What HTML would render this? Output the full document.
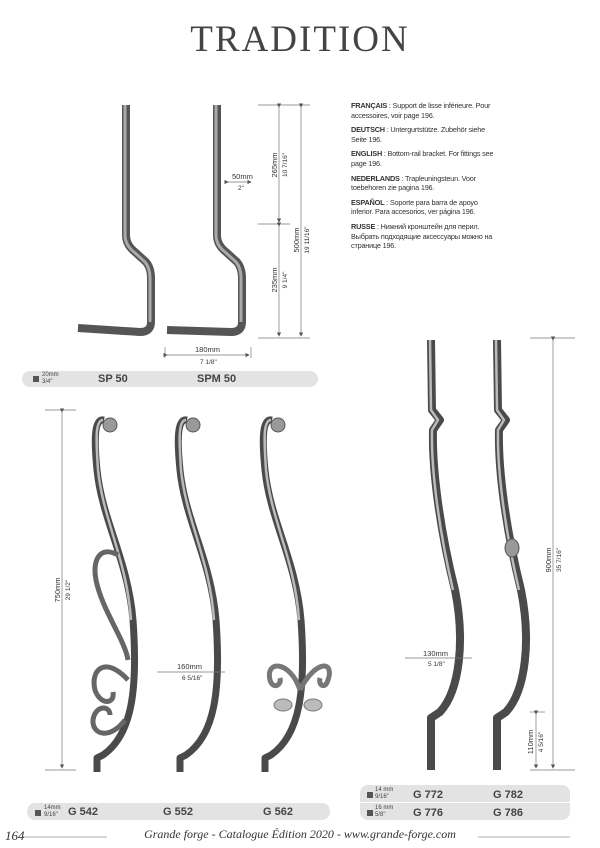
<!DOCTYPE html>
<html><head><meta charset="utf-8"><style>
body{margin:0;background:#fff;}
.p{position:relative;width:600px;height:848px;overflow:hidden;font-family:"Liberation Sans",sans-serif;}
.t{position:absolute;left:0;width:600px;top:18px;text-align:center;font-family:"Liberation Serif",serif;font-size:37px;letter-spacing:2px;color:#444;}
.txt{position:absolute;left:351px;top:101px;width:150px;font-size:7.3px;line-height:9.6px;color:#333;font-family:"Liberation Sans","Noto Sans CJK SC",sans-serif;letter-spacing:-0.2px}
.txt p{margin:0 0 5px 0}
.bar{position:absolute;background:#e3e3e3;border-radius:8px;}
.lbl{position:absolute;font-weight:bold;font-size:11px;color:#444;}
.sm{position:absolute;font-size:6px;line-height:7px;color:#444;}
.sq{position:absolute;width:6px;height:6px;background:#555;}
</style></head><body><div class="p">
<div class="t">TRADITION</div>
<div class="txt">
<p><b>FRANÇAIS</b> : Support de lisse inférieure. Pour accessoires, voir page 196.</p>
<p><b>DEUTSCH</b> : Untergurtstütze. Zubehör siehe Seite 196.</p>
<p><b>ENGLISH</b> : Bottom-rail bracket. For fittings see page 196.</p>
<p><b>NEDERLANDS</b> : Trapleuningsteun. Voor toebehoren zie pagina 196.</p>
<p><b>ESPAÑOL</b> : Soporte para barra de apoyo inferior. Para accesorios, ver página 196.</p>
<p><b>RUSSE</b> : Нижний кронштейн для перил. Выбрать подходящие аксессуары можно на странице 196.</p>
</div>
<svg width="600" height="848" style="position:absolute;left:0;top:0" font-family="Liberation Sans,sans-serif" fill="#444">
<defs><marker id="a" markerWidth="6" markerHeight="6" refX="5" refY="3" orient="auto"><path d="M0,0L6,3L0,6z" fill="#555"/></marker></defs>
<g fill="none" stroke-linejoin="round" stroke-linecap="butt">
<!-- SP50 -->
<path d="M126,105 L126,235 Q126,245 135,252 L146,262 Q151,268 151,278 L151,322 Q151,332 140,332 L78,328" stroke="#555" stroke-width="8"/>
<path d="M125,105 L125,235 Q125,245 134,252 L145,262 Q150,268 150,278 L150,322" stroke="#aaa" stroke-width="3"/>
<!-- SPM50 -->
<path d="M217,105 L217,235 Q217,245 226,252 L237,262 Q242,268 242,278 L242,322 Q242,332 231,332 L167,330" stroke="#555" stroke-width="8"/>
<path d="M216,105 L216,235 Q216,245 225,252 L236,262 Q241,268 241,278 L241,322" stroke="#aaa" stroke-width="3"/>
<!-- balusters -->
<g id="b"><path d="M104,420 C94,418 94,440 97,470 C102,520 128,560 133,620 C138,690 132,735 103,755 L97,758 L97,772" stroke="#4a4a4a" stroke-width="7"/>
<path d="M103,420 C95,420 96,440 98,470 C103,520 127,560 131,620" stroke="#bbb" stroke-width="2.5"/>
<circle cx="110" cy="425" r="7" fill="#999" stroke="#555"/></g>
<use href="#b" x="83"/><use href="#b" x="168"/>
<!-- G542 scrolls -->
<path d="M118,555 C100,545 92,560 96,580 C102,610 125,640 128,660" stroke="#666" stroke-width="5"/>
<path d="M128,680 C105,655 90,670 95,690 C100,705 115,705 113,692" stroke="#666" stroke-width="5"/>
<path d="M125,720 C110,740 92,735 93,720 C95,705 110,705 110,715" stroke="#666" stroke-width="5"/>
<!-- G562 leaves -->
<path d="M300,690 C290,660 265,660 270,680 C273,690 282,685 280,678" stroke="#777" stroke-width="5"/>
<path d="M300,690 C315,660 335,660 328,680 C325,690 318,685 320,678" stroke="#777" stroke-width="5"/>
<ellipse cx="283" cy="705" rx="9" ry="6" fill="#bbb" stroke="#777"/><ellipse cx="313" cy="705" rx="9" ry="6" fill="#bbb" stroke="#777"/>
<!-- G772 / G782 -->
<g id="g"><path d="M431,340 L432,410 L440,420 L433,430 C432,470 440,530 455,590 C465,640 460,690 440,712 L431,718 L431,770" stroke="#4a4a4a" stroke-width="8"/>
<path d="M430,340 L431,410 L438,420 L432,430 C431,470 439,530 453,590" stroke="#bbb" stroke-width="2.5"/></g>
<use href="#g" x="66"/>
<ellipse cx="512" cy="548" rx="7" ry="9" fill="#999" stroke="#555"/>
</g>
<!-- dimensions -->
<g stroke="#777" stroke-width="0.7" fill="none">
<line x1="258" y1="105" x2="310" y2="105"/><line x1="258" y1="224" x2="290" y2="224"/><line x1="258" y1="338" x2="310" y2="338"/>
<line x1="279" y1="107" x2="279" y2="222" marker-start="url(#a)" marker-end="url(#a)"/>
<line x1="279" y1="226" x2="279" y2="336" marker-start="url(#a)" marker-end="url(#a)"/>
<line x1="301" y1="107" x2="301" y2="336" marker-start="url(#a)" marker-end="url(#a)"/>
<line x1="228" y1="182" x2="251" y2="182" marker-start="url(#a)" marker-end="url(#a)"/>
<line x1="165" y1="347" x2="165" y2="358"/><line x1="251" y1="347" x2="251" y2="358"/>
<line x1="167" y1="355" x2="249" y2="355" marker-start="url(#a)" marker-end="url(#a)"/>
<line x1="45" y1="410" x2="76" y2="410"/><line x1="45" y1="770" x2="76" y2="770"/>
<line x1="62" y1="412" x2="62" y2="768" marker-start="url(#a)" marker-end="url(#a)"/>
<line x1="157" y1="672" x2="225" y2="672"/>
<line x1="405" y1="658" x2="472" y2="658"/>
<line x1="530" y1="338" x2="575" y2="338"/><line x1="530" y1="770" x2="575" y2="770"/>
<line x1="553" y1="340" x2="553" y2="768" marker-start="url(#a)" marker-end="url(#a)"/>
<line x1="530" y1="712" x2="545" y2="712"/>
<line x1="536" y1="714" x2="536" y2="768" marker-start="url(#a)" marker-end="url(#a)"/>
</g>
<g font-size="7.5" fill="#333">
<text transform="translate(277,165) rotate(-90)" text-anchor="middle">265mm</text>
<text transform="translate(287,165) rotate(-90)" text-anchor="middle" font-size="6.5">10 7/16"</text>
<text transform="translate(277,280) rotate(-90)" text-anchor="middle">235mm</text>
<text transform="translate(287,280) rotate(-90)" text-anchor="middle" font-size="6.5">9 1/4"</text>
<text transform="translate(299,240) rotate(-90)" text-anchor="middle">500mm</text>
<text transform="translate(309,240) rotate(-90)" text-anchor="middle" font-size="6.5">19 11/16"</text>
<text x="232" y="179">50mm</text><text x="238" y="190" font-size="6.5">2"</text>
<text x="195" y="352">180mm</text><text x="200" y="364" font-size="6.5">7 1/8"</text>
<text transform="translate(60,590) rotate(-90)" text-anchor="middle">750mm</text>
<text transform="translate(70,590) rotate(-90)" text-anchor="middle" font-size="6.5">29 1/2"</text>
<text x="177" y="669">160mm</text><text x="182" y="680" font-size="6.5">6 5/16"</text>
<text x="423" y="656">130mm</text><text x="428" y="666" font-size="6.5">5 1/8"</text>
<text transform="translate(551,560) rotate(-90)" text-anchor="middle">900mm</text>
<text transform="translate(561,560) rotate(-90)" text-anchor="middle" font-size="6.5">35 7/16"</text>
<text transform="translate(533,742) rotate(-90)" text-anchor="middle">110mm</text>
<text transform="translate(543,742) rotate(-90)" text-anchor="middle" font-size="6.5">4 5/16"</text>
</g>
<g stroke="#999" stroke-width="0.8"><line x1="22" y1="837" x2="107" y2="837"/><line x1="478" y1="837" x2="570" y2="837"/></g>
<text x="5" y="840" font-family="Liberation Serif,serif" font-style="italic" font-size="13" fill="#333">164</text>
<text x="300" y="838" text-anchor="middle" font-family="Liberation Serif,serif" font-style="italic" font-size="12" fill="#333">Grande forge - Catalogue Édition  2020 - www.grande-forge.com</text>
</svg>
<div class="bar" style="left:22px;top:371px;width:296px;height:16px"></div>
<div class="sq" style="left:33px;top:376px"></div><div class="sm" style="left:42px;top:372px">20mm<br>3/4"</div>
<div class="lbl" style="left:98px;top:373px">SP 50</div><div class="lbl" style="left:197px;top:373px">SPM 50</div>
<div class="bar" style="left:27px;top:803px;width:303px;height:17px"></div>
<div class="sq" style="left:35px;top:810px"></div><div class="sm" style="left:44px;top:805px">14mm<br>9/16"</div>
<div class="lbl" style="left:68px;top:806px">G 542</div><div class="lbl" style="left:163px;top:806px">G 552</div><div class="lbl" style="left:263px;top:806px">G 562</div>
<div class="bar" style="left:360px;top:785px;width:210px;height:35px"></div>
<div style="position:absolute;left:360px;top:802px;width:210px;height:1px;background:#fff"></div>
<div class="sq" style="left:367px;top:792px"></div><div class="sm" style="left:375px;top:787px">14 mm<br>9/16"</div>
<div class="sq" style="left:367px;top:810px"></div><div class="sm" style="left:375px;top:805px">16 mm<br>5/8"</div>
<div class="lbl" style="left:413px;top:789px">G 772</div><div class="lbl" style="left:493px;top:789px">G 782</div>
<div class="lbl" style="left:413px;top:807px">G 776</div><div class="lbl" style="left:493px;top:807px">G 786</div>
</div></body></html>
